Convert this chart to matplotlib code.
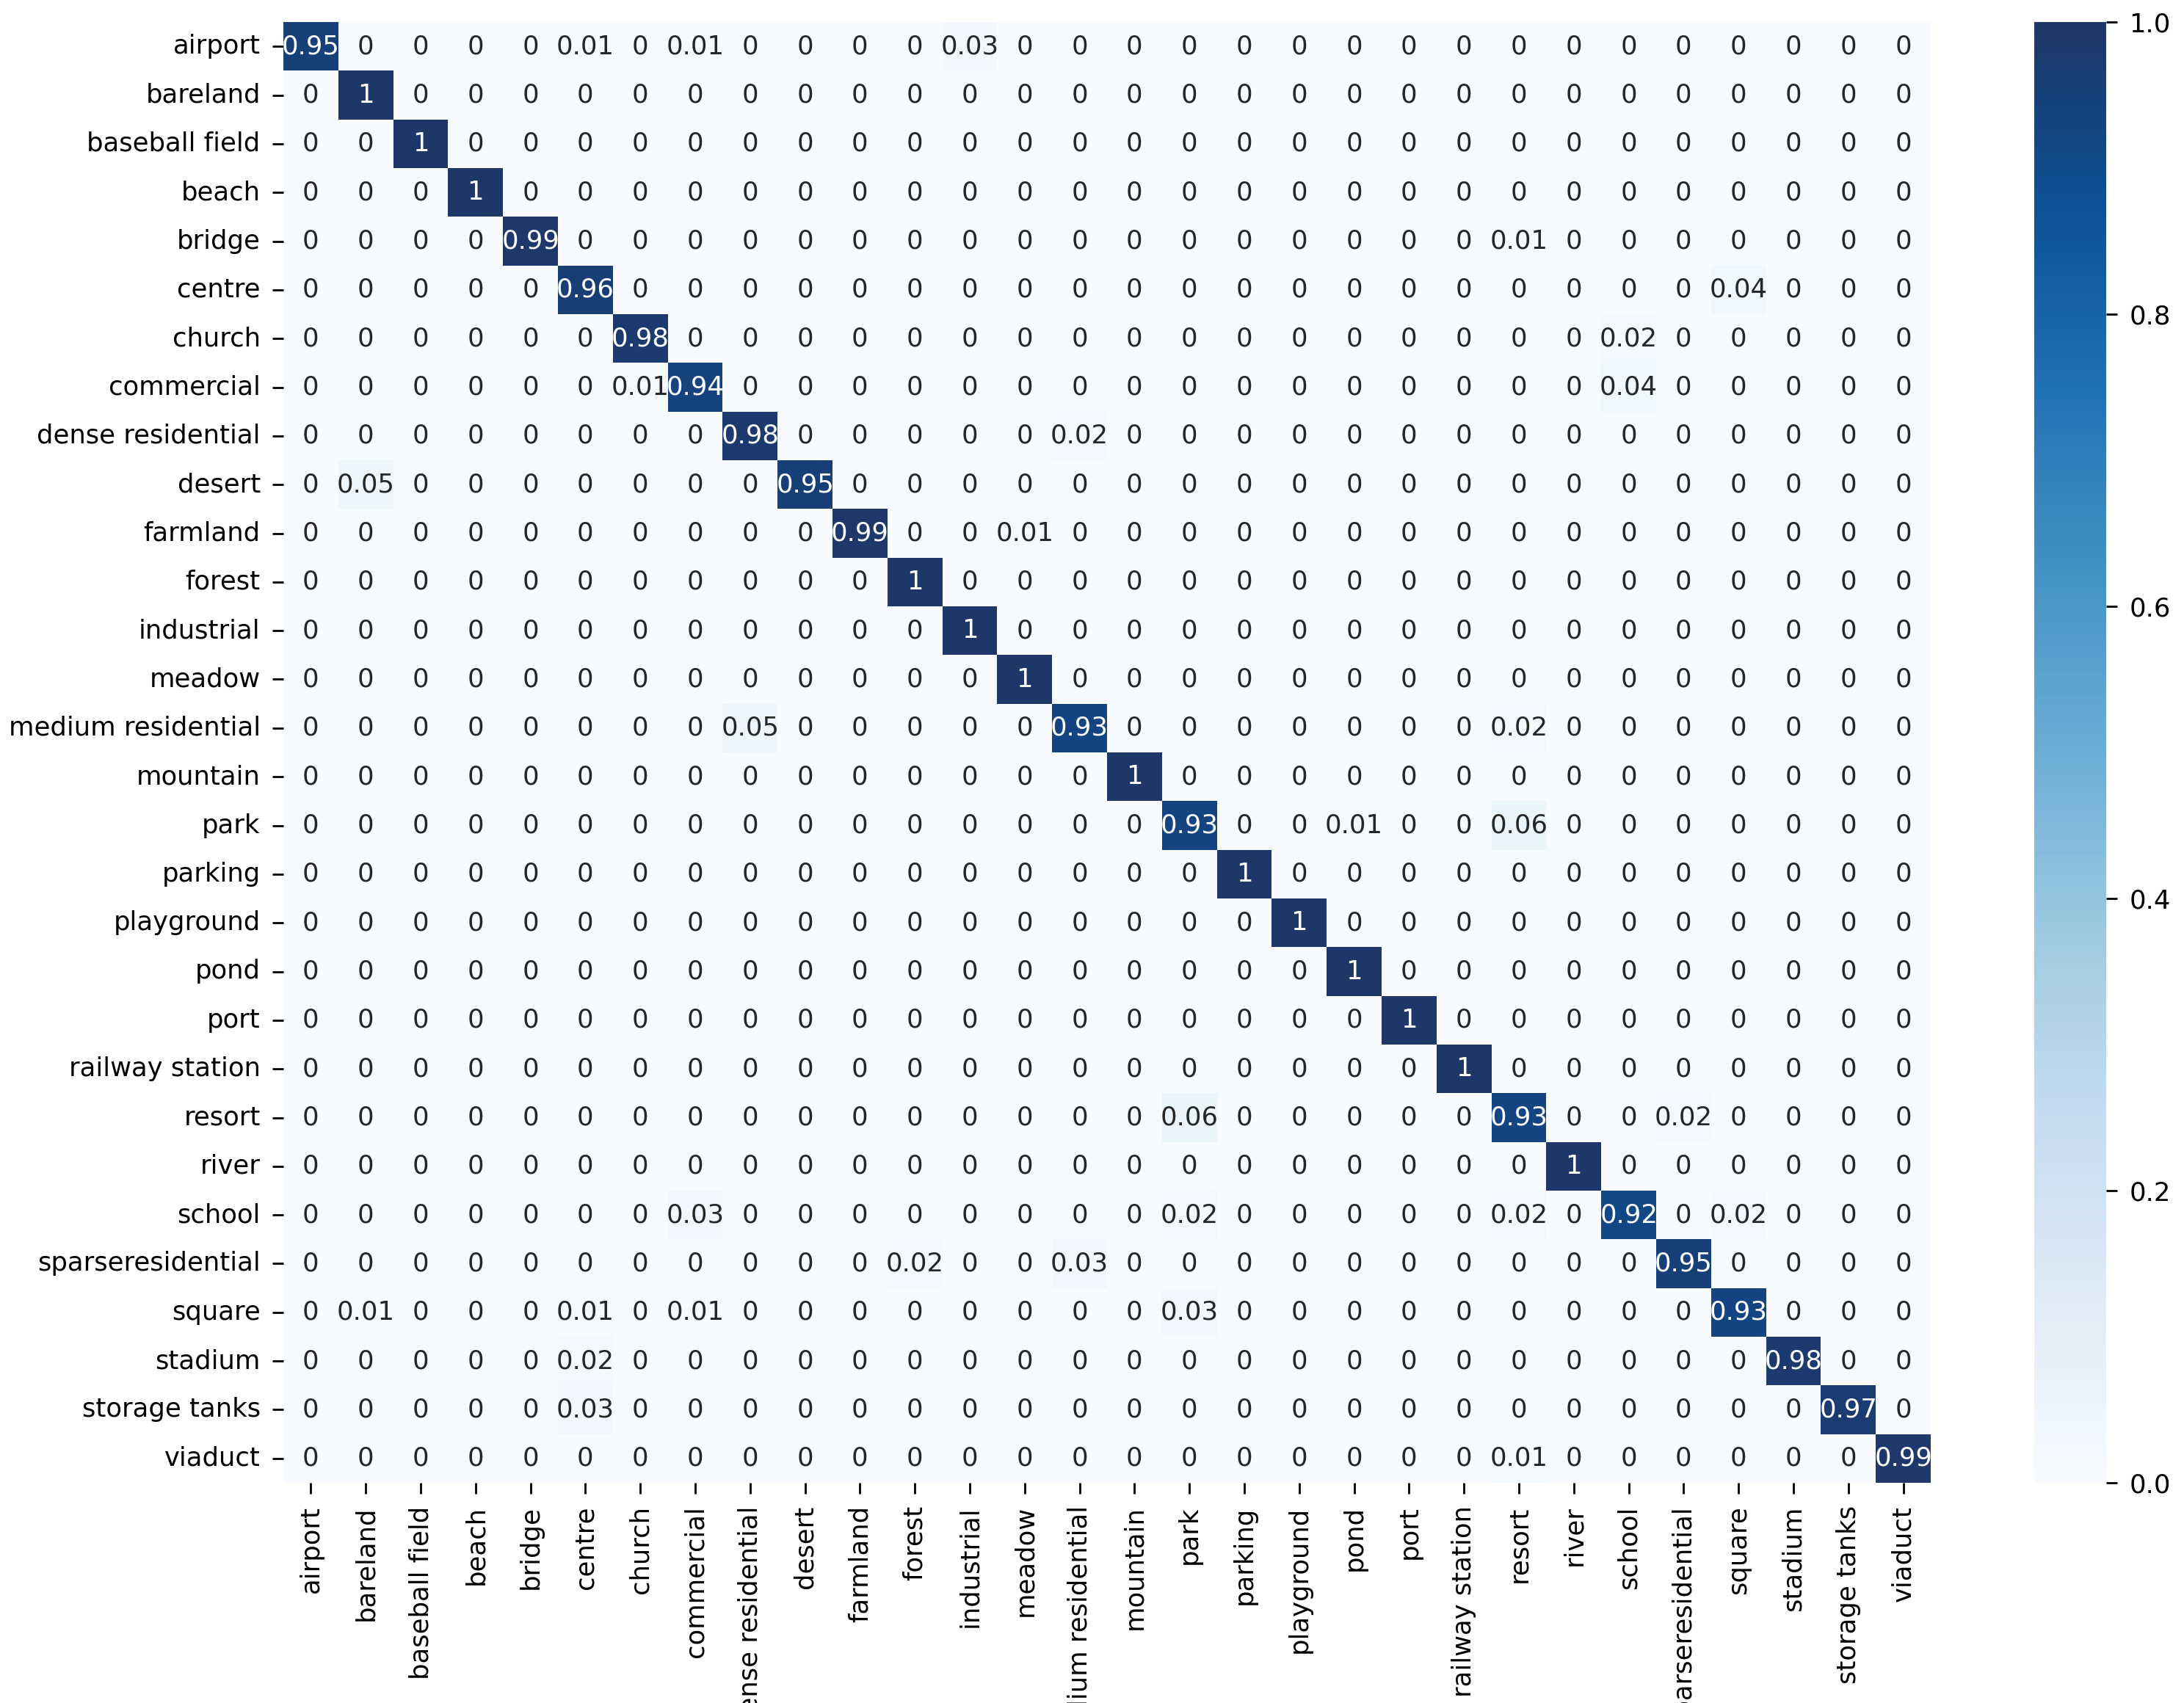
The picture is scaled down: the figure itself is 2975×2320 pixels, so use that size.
import numpy as np
import matplotlib
matplotlib.use("Agg")
import matplotlib.pyplot as plt
import seaborn as sns
from matplotlib.colors import LinearSegmentedColormap

labels = ["airport", "bareland", "baseball field", "beach", "bridge", "centre",
          "church", "commercial", "dense residential", "desert", "farmland",
          "forest", "industrial", "meadow", "medium residential", "mountain",
          "park", "parking", "playground", "pond", "port", "railway station",
          "resort", "river", "school", "sparseresidential", "square", "stadium",
          "storage tanks", "viaduct"]

# diagonal values (per-class accuracy)
diag_values = [0.95, 1, 1, 1, 0.99, 0.96, 0.98, 0.94, 0.98, 0.95,
               0.99, 1, 1, 1, 0.93, 1, 0.93, 1, 1, 1,
               1, 1, 0.93, 1, 0.92, 0.95, 0.93, 0.98, 0.97, 0.99]

# off-diagonal confusions: (true row, predicted column, value)
off_rows = ["airport", "airport", "airport",
            "bridge", "centre", "church",
            "commercial", "commercial",
            "dense residential", "desert", "farmland",
            "medium residential", "medium residential",
            "park", "park",
            "resort", "resort",
            "school", "school", "school", "school",
            "sparseresidential", "sparseresidential",
            "square", "square", "square", "square",
            "stadium", "storage tanks", "viaduct"]
off_cols = ["centre", "commercial", "industrial",
            "resort", "square", "school",
            "church", "school",
            "medium residential", "bareland", "meadow",
            "dense residential", "resort",
            "pond", "resort",
            "park", "sparseresidential",
            "commercial", "park", "resort", "square",
            "forest", "medium residential",
            "bareland", "centre", "commercial", "park",
            "centre", "centre", "resort"]
off_values = [0.01, 0.01, 0.03,
              0.01, 0.04, 0.02,
              0.01, 0.04,
              0.02, 0.05, 0.01,
              0.05, 0.02,
              0.01, 0.06,
              0.06, 0.02,
              0.03, 0.02, 0.02, 0.02,
              0.02, 0.03,
              0.01, 0.01, 0.01, 0.03,
              0.02, 0.03, 0.01]

n = len(labels)
cm = np.zeros((n, n))
for i, v in enumerate(diag_values):
    cm[i, i] = v
for r, c, v in zip(off_rows, off_cols, off_values):
    cm[labels.index(r), labels.index(c)] = v

cmap = LinearSegmentedColormap.from_list(
    "blues_ref",
    ["#f7fbff", "#deebf7", "#c6dbef", "#9ecae1", "#6baed6",
     "#4292c6", "#2171b5", "#0b5196", "#1f3668"])

plt.rcParams["font.size"] = 10.2
for a in ("xtick", "ytick"):
    plt.rcParams[f"{a}.major.size"] = 4.2
    plt.rcParams[f"{a}.major.pad"] = 4.8

fig = plt.figure(figsize=(11.9, 9.28), dpi=250)
W, H = 2975, 2320
ax = fig.add_axes([386 / W, 1 - 2020 / H, 2244 / W, 1990 / H])
cax = fig.add_axes([2771 / W, 1 - 2020 / H, 98 / W, 1990 / H])

sns.heatmap(cm, annot=True, fmt=".2g", cmap=cmap, vmin=0, vmax=1,
            xticklabels=labels, yticklabels=labels, ax=ax, cbar_ax=cax)
ax.set_xticklabels(labels, rotation=90)
ax.set_yticklabels(labels, rotation=0)
cax.set_yticks([0.0, 0.2, 0.4, 0.6, 0.8, 1.0])

fig.savefig("out.png", dpi=250)
